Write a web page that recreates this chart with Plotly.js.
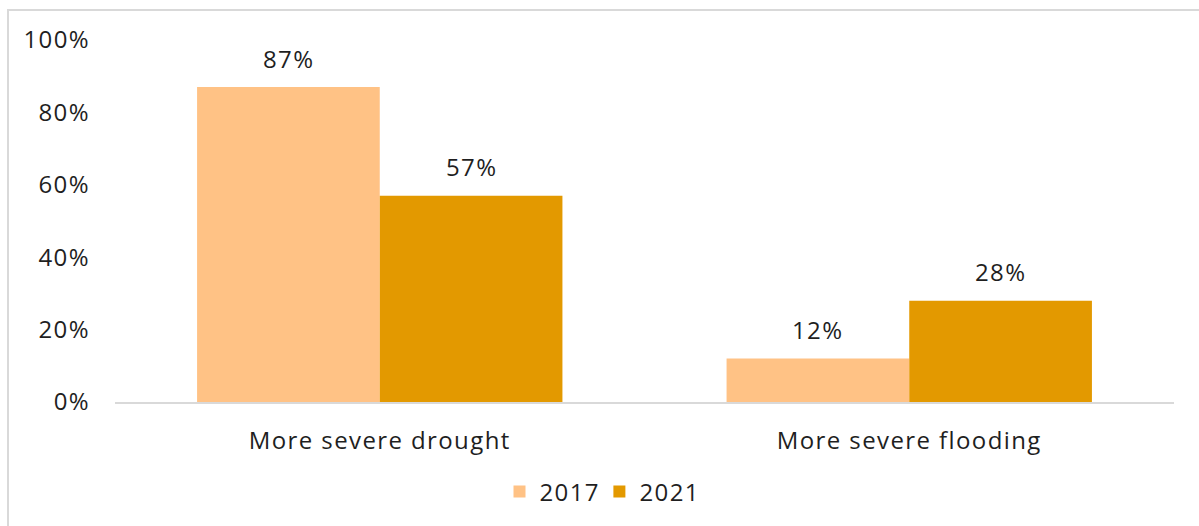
<!DOCTYPE html>
<html>
<head>
<meta charset="utf-8">
<script src="https://cdn.plot.ly/plotly-3.0.1.min.js"></script>
<style>
html,body{margin:0;padding:0;background:#fff;}
#wrap{position:relative;width:1199px;height:526px;overflow:hidden;}
#chart{position:absolute;left:0;top:0;width:1199px;height:526px;}
#chart text{letter-spacing:1.4px;}
#frame{position:absolute;left:7px;top:9px;width:1300px;height:700px;border:2px solid #d9d9d9;pointer-events:none;z-index:5;}
</style>
</head>
<body>
<div id="wrap"><div id="chart"></div><div id="frame"></div></div>
<script>
const categories = ["More severe drought", "More severe flooding"];
const seriesNames = ["2017", "2021"];
const values2017 = [87, 12];
const values2021 = [57, 28];
const seriesColors = ["#FFC285", "#E39900"];
const yTickVals = [0, 20, 40, 60, 80, 100];
const yTickText = ["0%", "20%", "40%", "60%", "80%", "100%"];

const fontFamily = "'Open Sans', 'DejaVu Sans', sans-serif";
const fontSize = 24;
const textColor = "#1f1f1f";

const W = 1199, H = 526;
const margin = {l: 115, r: 25, t: 40, b: 124};
const bargap = 0.31;

const seriesValues = [values2017, values2021];

const data = seriesNames.map((name, i) => ({
  type: "bar",
  name: name,
  x: categories,
  y: seriesValues[i],
  marker: {color: seriesColors[i]},
  hoverinfo: "skip"
}));

// value labels placed above each bar, offset to the bar's slot within its group
const plotW = W - margin.l - margin.r;
const slotPx = plotW / categories.length * (1 - bargap) / seriesNames.length;
const annotations = [];
seriesNames.forEach((name, i) => {
  const shift = (i - (seriesNames.length - 1) / 2) * slotPx;
  categories.forEach((cat, j) => {
    annotations.push({
      x: cat,
      y: seriesValues[i][j],
      xref: "x",
      yref: "y",
      text: seriesValues[i][j] + "%",
      showarrow: false,
      xshift: shift,
      yshift: 29,
      yanchor: "middle",
      xanchor: "center",
      font: {family: fontFamily, size: fontSize, color: textColor}
    });
  });
});

const layout = {
  width: W,
  height: H,
  margin: margin,
  paper_bgcolor: "#ffffff",
  plot_bgcolor: "#ffffff",
  barmode: "group",
  bargap: bargap,
  bargroupgap: 0,
  font: {family: fontFamily, size: fontSize, color: textColor},
  xaxis: {
    showline: true,
    linecolor: "#d9d9d9",
    linewidth: 2,
    ticks: "",
    showgrid: false,
    zeroline: false,
    ticklabelstandoff: 16,
    tickfont: {family: fontFamily, size: fontSize, color: textColor}
  },
  yaxis: {
    range: [0, 100],
    tickvals: yTickVals,
    ticktext: yTickText,
    showline: false,
    showgrid: false,
    zeroline: false,
    ticks: "",
    ticklabelstandoff: 24,
    tickfont: {family: fontFamily, size: fontSize, color: textColor}
  },
  annotations: annotations,
  showlegend: true,
  legend: {
    orientation: "h",
    xref: "container",
    yref: "container",
    x: 0.5,
    xanchor: "center",
    y: 0.065,
    yanchor: "middle",
    font: {family: fontFamily, size: fontSize, color: textColor},
    itemwidth: 30,
    traceorder: "normal"
  }
};

Plotly.newPlot("chart", data, layout, {displayModeBar: false, staticPlot: true});
</script>
</body>
</html>
